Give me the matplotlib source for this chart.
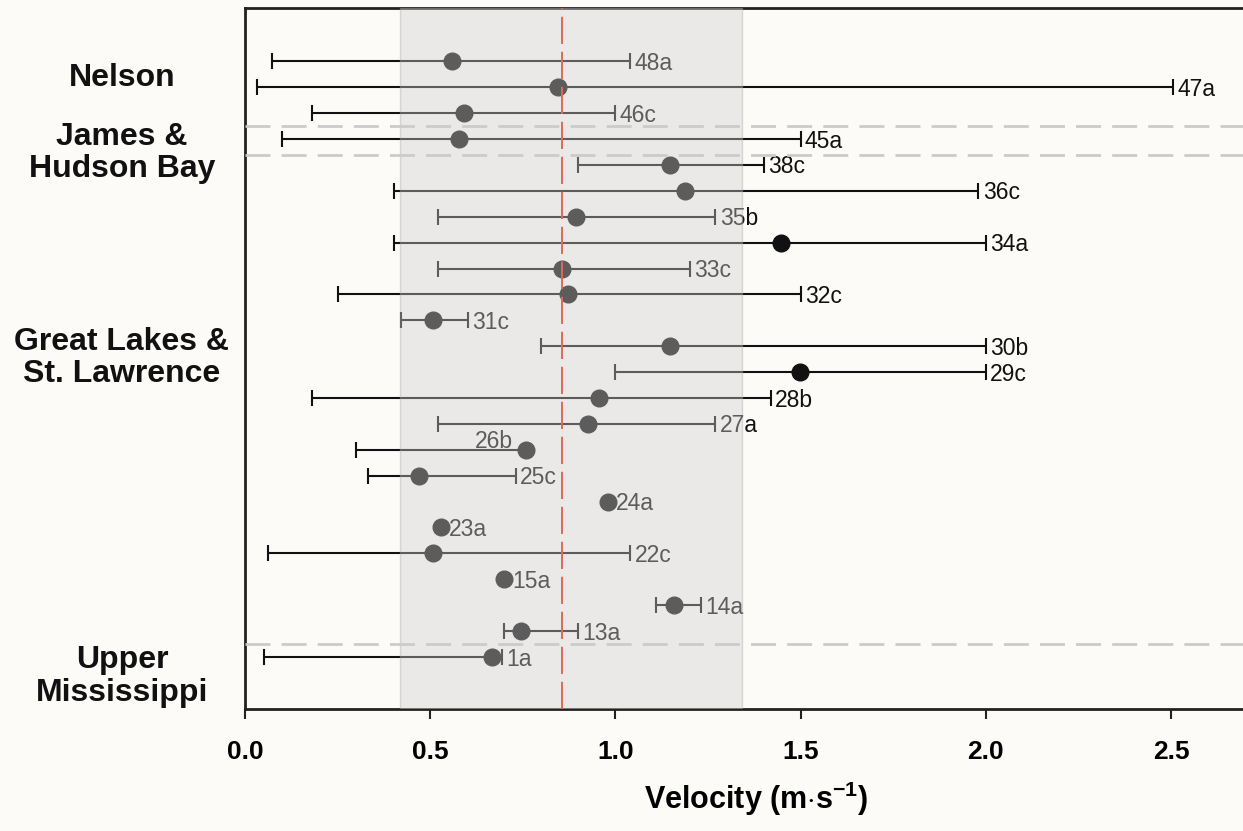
import numpy as np
import matplotlib
matplotlib.use("Agg")
import matplotlib.pyplot as plt
from matplotlib.transforms import blended_transform_factory

plt.rcParams["font.family"] = ["Liberation Sans", "DejaVu Sans"]
plt.rcParams["mathtext.fontset"] = "custom"
plt.rcParams["mathtext.rm"] = "Liberation Sans"
plt.rcParams["mathtext.bf"] = "Liberation Sans:bold"

# site codes, top to bottom
sites = ["48a", "47a", "46c", "45a", "38c", "36c", "35b", "34a", "33c", "32c",
         "31c", "30b", "29c", "28b", "27a", "26b", "25c", "24a", "23a", "22c",
         "15a", "14a", "13a", "1a"]
mean_vel = [0.56, 0.845, 0.59, 0.578, 1.147, 1.188, 0.893, 1.448, 0.857, 0.873,
            0.508, 1.147, 1.497, 0.956, 0.927, 0.758, 0.47, 0.979, 0.529, 0.508,
            0.699, 1.158, 0.744, 0.667]
min_vel = [0.072, 0.032, 0.182, 0.10, 0.90, 0.402, 0.52, 0.402, 0.52, 0.25,
           0.421, 0.80, 1.0, 0.182, 0.52, 0.30, 0.331, np.nan, np.nan, 0.061,
           np.nan, 1.109, 0.70, 0.051]
max_vel = [1.04, 2.505, 1.0, 1.5, 1.40, 1.98, 1.27, 2.0, 1.20, 1.5,
           0.603, 2.0, 2.0, 1.42, 1.27, 0.758, 0.731, np.nan, np.nan, 1.04,
           np.nan, 1.23, 0.90, 0.695]

# drainage basins and the row they are centred on
basins = ["Nelson", "James &\nHudson Bay", "Great Lakes &\nSt. Lawrence", "Upper\nMississippi"]
basin_rows = [22.35, 19.45, 11.55, -0.75]
basin_breaks = [20.5, 19.4, 0.5]

# overall range (shaded) and overall mean (red line)
range_lo, range_hi = 0.418, 1.342
overall_mean = 0.857

bg = "#fcfbf8"
fig = plt.figure(figsize=(12.43, 8.31), dpi=100, facecolor=bg)
ax = fig.add_axes([0.1971, 0.1468, 0.8029, 0.8436], facecolor=bg)

mean_vel = np.array(mean_vel)
min_vel = np.array(min_vel)
max_vel = np.array(max_vel)
ypos = np.arange(len(sites))[::-1]

has_bar = ~np.isnan(min_vel)
ax.errorbar(mean_vel[has_bar], ypos[has_bar],
            xerr=[mean_vel[has_bar] - min_vel[has_bar], max_vel[has_bar] - mean_vel[has_bar]],
            fmt="none", ecolor="#111111", elinewidth=1.5, capsize=5.5, capthick=1.5, zorder=2)
ax.plot(mean_vel, ypos, "o", color="#111111", markersize=12, zorder=3)

lbl = dict(fontsize=16.5, color="#111111", va="center", zorder=3)
for s, m, hi, y in zip(sites, mean_vel, max_vel, ypos):
    if s == "26b":
        ax.annotate(s, (m, y), xytext=(-9, 6), textcoords="offset points", ha="right", **lbl)
    elif np.isnan(hi):
        ax.annotate(s, (m, y), xytext=(6, -1.5), textcoords="offset points", ha="left", **lbl)
    else:
        ax.annotate(s, (hi, y), xytext=(3, -1.5), textcoords="offset points", ha="left", **lbl)

# translucent band over the points, so marks inside it come out grey
ax.axvspan(range_lo, range_hi, facecolor="#cfcfcf", alpha=0.4,
           edgecolor="#a8a8a8", linewidth=1.0, zorder=5)
ax.axvline(overall_mean, color="#de6a55", linewidth=1.4, dashes=(14, 4), zorder=6)
for yb in basin_breaks:
    ax.axhline(yb, color="#cbcbcb", linewidth=2, dashes=(9, 4), zorder=6)

tr = blended_transform_factory(fig.transFigure, ax.transData)
for name, yr in zip(basins, basin_rows):
    ax.text(122 / 1243, yr, name, transform=tr, ha="center", va="center",
            fontsize=23, fontweight="bold", linespacing=1.1, color="#111111",
            clip_on=False)

ax.set_xlim(0, 2.694)
ax.set_ylim(-2.01, 25.06)
ax.set_yticks([])
ax.set_xticks([0.0, 0.5, 1.0, 1.5, 2.0, 2.5])
ax.set_xticklabels(["0.0", "0.5", "1.0", "1.5", "2.0", "2.5"],
                   fontsize=19, fontweight="bold")
ax.tick_params(axis="x", length=7, width=1.5, pad=15, color="#222222")
ax.set_xlabel(r"Velocity (m$\cdot$s$^{\mathbf{-1}}$)", fontsize=22, fontweight="bold")
ax.xaxis.set_label_coords((756 - 245) / 998, -0.101)
for side in ["left", "bottom", "top"]:
    ax.spines[side].set_linewidth(2)
    ax.spines[side].set_color("#222222")
ax.spines["right"].set_visible(False)

fig.savefig("out.png", dpi=100, facecolor=bg)
